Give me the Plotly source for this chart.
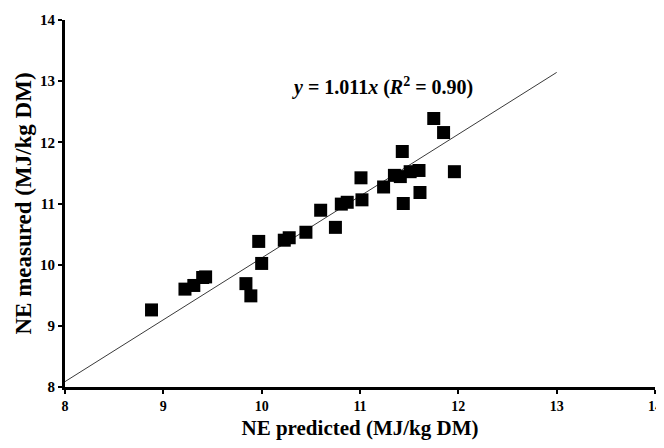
import plotly.graph_objects as go

# Data
ne_predicted = [8.88, 9.22, 9.31, 9.40, 9.43, 9.84, 9.89, 9.97, 10.00, 10.23,
                10.28, 10.45, 10.60, 10.75, 10.81, 10.87, 11.01, 11.02, 11.24, 11.35,
                11.41, 11.43, 11.44, 11.51, 11.60, 11.61, 11.75, 11.85, 11.96]
ne_measured = [9.26, 9.60, 9.66, 9.79, 9.80, 9.69, 9.49, 10.38, 10.02, 10.40,
               10.44, 10.53, 10.89, 10.61, 10.99, 11.02, 11.42, 11.06, 11.27, 11.46,
               11.44, 11.85, 11.00, 11.52, 11.54, 11.18, 12.39, 12.16, 11.52]
slope = 1.011
line_x = [8, 13]
line_y = [slope * v for v in line_x]
tick_vals = [8, 9, 10, 11, 12, 13, 14]

serif = "Liberation Serif, Times New Roman, serif"

fig = go.Figure()
fig.add_trace(go.Scatter(x=line_x, y=line_y, mode="lines",
                         line=dict(color="#3a3a3a", width=1), showlegend=False,
                         hoverinfo="skip"))
fig.add_trace(go.Scatter(x=ne_predicted, y=ne_measured, mode="markers",
                         marker=dict(symbol="square", size=13, color="black"),
                         showlegend=False, cliponaxis=False))

axis_common = dict(range=[8, 14], tickvals=tick_vals, showgrid=False, zeroline=False,
                   showline=True, linecolor="black", linewidth=3, automargin=False,
                   ticks="outside", ticklen=4, tickwidth=2, tickcolor="black")

fig.update_layout(
    width=664, height=448,
    margin=dict(l=57, r=17, t=12, b=69),
    paper_bgcolor="white", plot_bgcolor="white",
    xaxis=dict(**axis_common,
               tickfont=dict(family=serif, size=14, color="black", weight="bold"),
               title=dict(text="NE predicted (MJ/kg DM)", standoff=8,
                          font=dict(family=serif, size=21, color="black", weight="bold"))),
    yaxis=dict(**axis_common,
               tickfont=dict(family=serif, size=15, color="black", weight="bold"),
               title=dict(text="NE measured (MJ/kg DM)", standoff=2,
                          font=dict(family=serif, size=23, color="black", weight="bold"))),
    annotations=[dict(
        x=11.23, y=12.92, xref="x", yref="y", showarrow=False,
        text="<i>y</i> = 1.011<i>x</i> (<i>R</i><sup>2</sup> = 0.90)",
        font=dict(family=serif, size=20, color="black", weight="bold"))],
)

fig.write_html("out.html")
